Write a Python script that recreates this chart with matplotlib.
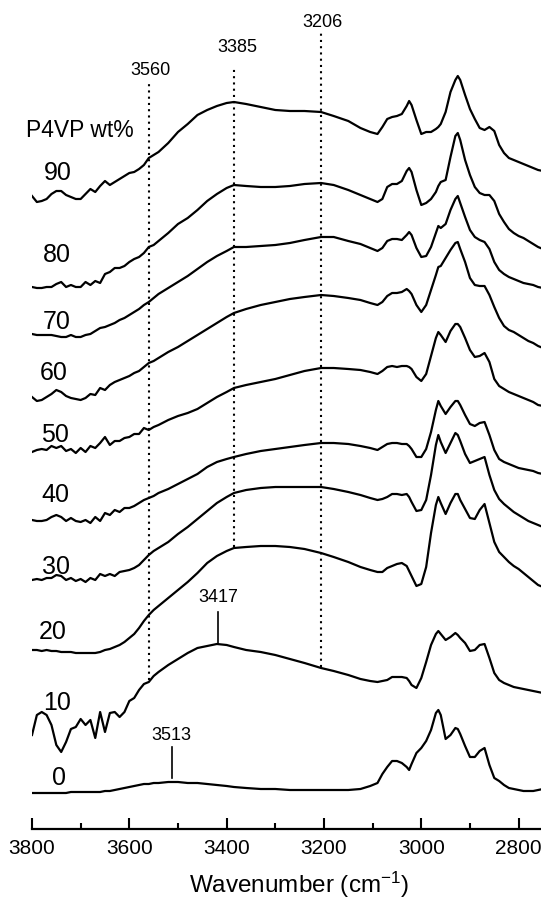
import matplotlib.pyplot as plt
import numpy as np

plt.rcParams['font.family'] = ['Liberation Sans', 'DejaVu Sans']
plt.rcParams['mathtext.fontset'] = 'custom'
plt.rcParams['mathtext.rm'] = 'Liberation Sans'
plt.rcParams['mathtext.it'] = 'Liberation Sans:italic'

# wavenumber grid (cm-1)
wn = np.array([3800, 3790, 3780, 3770, 3760, 3750, 3740, 3730, 3720, 3710, 3700, 3690, 3680, 3670,
               3660, 3650, 3640, 3630, 3620, 3610, 3600, 3590, 3580, 3570, 3560, 3550, 3540,
               3520, 3500, 3480, 3460, 3440, 3420, 3400, 3385, 3360, 3330, 3300, 3270, 3240, 3206,
               3180, 3150, 3125, 3105, 3090,
               3080, 3070, 3060, 3050, 3040, 3030, 3025, 3020, 3010, 3000, 2990, 2980, 2970, 2965,
               2960, 2950, 2940, 2930, 2925, 2920, 2910, 2900, 2890, 2880, 2870, 2860, 2850, 2840,
               2830, 2820, 2810, 2800, 2790, 2780, 2770, 2760, 2750])

# absorbance (a.u.) of each blend, relative to its own baseline
a90 = [4, -2, -1, 1, 6, 9, 9, 5, 3, 1, 1, 6, 11, 8, 14, 19, 15, 18, 21, 24, 27, 28, 31, 35, 42, 45, 48,
       57, 68, 76, 85, 90, 94, 97, 98, 96, 93, 90, 89, 89, 88, 84, 79, 72, 68, 66,
       73, 81, 83, 84, 86, 94, 99, 95, 80, 66, 68, 68, 71, 73, 76, 88, 108, 120, 124, 120, 105, 91,
       81, 72, 70, 73, 69, 55, 47, 42, 40, 38, 36, 34, 32, 30, 29]
a80 = [3, 2, 2, 3, 3, 6, 8, 3, 5, 3, 3, 8, 5, 9, 7, 16, 18, 22, 22, 24, 28, 31, 33, 37, 43, 45, 49,
       57, 66, 72, 80, 89, 96, 102, 105, 104, 103, 103, 104, 106, 107, 105, 100, 95, 91, 88,
       91, 103, 106, 106, 109, 119, 122, 118, 100, 85, 87, 91, 98, 104, 108, 110, 133, 154, 157, 150,
       130, 115, 103, 97, 95, 95, 89, 76, 68, 61, 57, 54, 52, 49, 46, 43, 41]
a70 = [1, 0, 0, 0, 0, -1, -2, -2, 0, -2, -2, 0, 1, 4, 7, 8, 10, 12, 15, 17, 20, 23, 26, 30, 33, 37, 41,
       47, 53, 59, 66, 73, 79, 84, 88, 88, 89, 90, 92, 95, 98, 98, 94, 91, 87, 84,
       87, 94, 96, 96, 95, 100, 103, 100, 87, 78, 79, 88, 102, 109, 107, 111, 125, 136, 139, 132,
       118, 105, 98, 95, 93, 86, 73, 65, 61, 58, 56, 54, 52, 51, 50, 48, 47]
a60 = [3, -1, 0, 3, 6, 10, 8, 4, 2, 1, 0, 2, 6, 5, 12, 10, 15, 18, 20, 22, 24, 27, 29, 33, 37, 39, 42,
       48, 53, 59, 65, 71, 77, 83, 87, 91, 95, 98, 101, 103, 105, 104, 102, 100, 97, 95,
       98, 104, 107, 107, 108, 111, 109, 106, 95, 88, 95, 110, 125, 133, 134, 142, 150, 157, 158, 151,
       138, 122, 115, 114, 114, 105, 93, 82, 74, 70, 68, 65, 62, 59, 57, 54, 52]
a50 = [3, 5, 6, 5, 9, 7, 9, 4, 6, 2, 7, 3, 9, 7, 12, 18, 10, 14, 14, 17, 18, 21, 21, 27, 25, 28, 30,
       35, 39, 42, 46, 52, 58, 63, 67, 70, 73, 76, 80, 84, 87, 87, 86, 85, 83, 81,
       84, 88, 89, 88, 89, 89, 88, 86, 78, 74, 81, 99, 117, 123, 120, 113, 124, 131, 131, 128,
       117, 105, 98, 99, 102, 93, 76, 69, 66, 63, 61, 59, 57, 55, 53, 50, 49]
a40 = [0, -1, -1, 0, 3, 5, 3, -1, 2, -1, -2, 0, -3, 3, -1, 7, 5, 10, 8, 12, 12, 14, 17, 20, 22, 24, 27,
       31, 36, 41, 46, 53, 58, 61, 63, 66, 69, 71, 73, 75, 77, 77, 76, 74, 72, 70,
       73, 76, 77, 77, 76, 76, 74, 71, 63, 63, 71, 88, 110, 119, 114, 106, 113, 119, 119, 115,
       105, 96, 94, 97, 98, 85, 70, 61, 58, 56, 54, 52, 51, 50, 49, 47, 46]
a30 = [0, 1, 0, 2, 2, 5, 4, 0, 2, -1, 1, -2, 2, 0, 6, 4, 6, 4, 8, 9, 10, 12, 15, 20, 25, 29, 32,
       38, 46, 53, 61, 69, 77, 83, 87, 90, 92, 93, 93, 93, 93, 91, 88, 85, 82, 80,
       81, 83, 86, 86, 85, 86, 83, 78, 69, 70, 80, 105, 135, 145, 138, 127, 137, 147, 145, 139,
       126, 117, 119, 121, 123, 105, 90, 81, 76, 72, 68, 65, 62, 59, 57, 55, 53]
a20 = [0, 0, -1, 0, -1, -1, -2, -2, -2, -3, -3, -3, -3, -3, -2, 0, 1, 3, 5, 8, 12, 16, 22, 29, 35, 40, 44,
       52, 60, 68, 77, 87, 94, 99, 102, 103, 104, 104, 103, 101, 97, 93, 88, 83, 80, 78,
       78, 82, 84, 86, 87, 84, 79, 74, 64, 66, 83, 117, 145, 153, 147, 136, 147, 156, 156, 150,
       141, 132, 131, 140, 146, 127, 108, 98, 93, 88, 84, 81, 77, 73, 69, 65, 63]
a10 = [5, 25, 28, 25, 15, -5, -12, -2, 11, 13, 21, 15, 20, 2, 28, 8, 27, 28, 23, 28, 39, 42, 50, 56, 58, 64, 68,
       75, 81, 87, 92, 94, 96, 95, 93, 90, 88, 85, 81, 77, 72, 69, 65, 61, 59, 58,
       59, 60, 63, 63, 63, 62, 59, 55, 52, 62, 78, 95, 106, 109, 106, 100, 103, 107, 105, 102,
       97, 89, 90, 95, 96, 82, 67, 60, 57, 55, 53, 52, 51, 50, 49, 48, 47]
a0 = [2, 2, 2, 2, 2, 2, 2, 2, 3, 3, 3, 3, 3, 3, 3, 4, 4, 5, 6, 7, 8, 9, 10, 11, 11, 12, 12,
      13, 13, 12, 12, 11, 10, 9, 8, 7, 6, 6, 5, 5, 5, 5, 5, 6, 9, 12,
      21, 28, 34, 34, 32, 28, 25, 31, 42, 47, 54, 65, 82, 85, 80, 56, 60, 67, 66, 61,
      49, 38, 38, 44, 47, 30, 17, 14, 10, 7, 6, 5, 4, 4, 4, 5, 6]

wt = ['90', '80', '70', '60', '50', '40', '30', '20', '10', '0']
spectra = [a90, a80, a70, a60, a50, a40, a30, a20, a10, a0]
offsets = [630, 540, 495, 430, 375, 310, 250, 180, 90, 35]
label_xy = [(3747, 657), (3749, 575), (3749, 508), (3755, 457), (3753, 395),
            (3751, 335), (3751, 263), (3757, 198), (3749, 127), (3745, 52)]

fig = plt.figure(figsize=(5.41, 9.10), dpi=100)
ax = fig.add_axes([32 / 541, 81 / 910, 509 / 541, 829 / 910])

for s, off, lab, (lx, ly) in zip(spectra, offsets, wt, label_xy):
    ax.plot(wn, np.array(s) + off, color='black', lw=1.6, solid_joinstyle='round')
    ax.text(lx, ly, lab, fontsize=18, ha='center', va='center')

ax.text(3812, 700, 'P4VP wt%', fontsize=16.5, ha='left', va='center')

# dotted reference lines
ax.plot([3560, 3560], [150, 748], color='black', lw=1.5, ls=(0, (1, 2)))
ax.plot([3385, 3385], [283, 763], color='black', lw=1.5, ls=(0, (1, 2)))
ax.plot([3206, 3206], [163, 800], color='black', lw=1.5, ls=(0, (1, 2)))
ax.text(3556, 760, '3560', fontsize=13, ha='center', va='center')
ax.text(3379, 783, '3385', fontsize=13, ha='center', va='center')
ax.text(3204, 808, '3206', fontsize=13, ha='center', va='center')

# peak markers
ax.plot([3417, 3417], [187, 218], color='black', lw=1.2)
ax.text(3417, 232, '3417', fontsize=13, ha='center', va='center')
ax.plot([3513, 3513], [52, 83], color='black', lw=1.2)
ax.text(3513, 94, '3513', fontsize=13, ha='center', va='center')

ax.set_xlim(3800, 2754)
ax.set_ylim(1, 830)
for side in ['left', 'top', 'right']:
    ax.spines[side].set_visible(False)
ax.spines['bottom'].set_linewidth(1.6)
ax.set_yticks([])
ax.set_xticks([3800, 3600, 3400, 3200, 3000, 2800])
ax.set_xticks(np.arange(3700, 2750, -200), minor=True)
ax.tick_params(axis='x', which='major', direction='in', length=8, width=1.5, labelsize=15, pad=7)
ax.tick_params(axis='x', which='minor', direction='in', length=4.5, width=1.5)

fig.text(299 / 541, 1 - 885 / 910, 'Wavenumber (cm$^{-1}$)', fontsize=17.5, ha='center', va='center')

fig.savefig('out.png', dpi=100)
